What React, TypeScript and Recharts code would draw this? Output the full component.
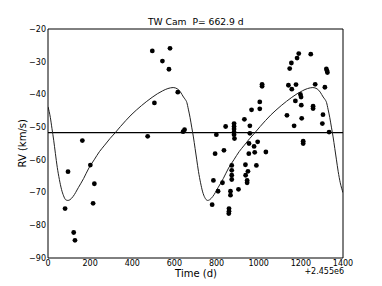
import React from 'react';
import { ComposedChart, XAxis, YAxis, Line, Scatter, ReferenceLine } from 'recharts';

// Observed radial velocities: time (d, offset by 2.455e6) and RV (km/s)
const obsTime = [
  81, 95, 122, 128, 163, 201, 214, 220,
  473, 495, 505, 543, 574, 579, 616, 641, 648,
  779, 785, 793, 799, 807, 828, 835, 843,
  859, 859, 858, 866, 866, 872, 872, 872, 872,
  883, 883, 883, 883, 883, 885, 904,
  932, 937, 938, 945, 945, 949, 953, 954, 958, 958, 966,
  978, 981, 989, 995, 1005, 1005, 1016, 1016, 1034,
  1134, 1141, 1147, 1155, 1157, 1168, 1174, 1177, 1182, 1190,
  1198, 1201, 1202, 1204, 1211, 1211, 1247, 1258, 1258, 1268,
  1302, 1305, 1314, 1321, 1324, 1326, 1334,
];
const obsRV = [
  -74.9, -63.6, -82.2, -84.6, -54.1, -61.6, -73.3, -67.3,
  -52.8, -26.7, -42.6, -29.8, -32.3, -25.9, -39.3, -51.4, -50.8,
  -73.7, -66.3, -58.1, -52.3, -69.6, -67.0, -57.1, -49.8,
  -74.9, -75.7, -76.4, -69.6, -70.8, -61.7, -63.2, -64.7, -66.0,
  -48.9, -49.8, -50.6, -51.5, -52.3, -53.5, -69.0,
  -47.6, -61.5, -64.7, -66.3, -67.0, -63.5, -58.1, -55.0, -49.6, -51.9, -44.7,
  -55.9, -57.7, -61.7, -54.5, -42.3, -44.4, -36.9, -37.5, -57.6,
  -46.4, -37.2, -32.1, -30.4, -38.4, -49.6, -42.0, -37.0, -28.9, -27.5,
  -40.0, -40.8, -43.3, -47.3, -54.3, -55.0, -27.7, -43.6, -44.3, -36.9,
  -48.9, -46.2, -37.8, -32.2, -32.8, -33.3, -51.5,
];

// Orbit model curve
const fitTime = [
  0, 11, 19, 27, 35, 44, 54, 64, 74, 84, 94, 104, 119, 144, 169, 194, 219, 244, 269, 294,
  319, 344, 369, 394, 419, 444, 469, 494, 519, 544, 569, 594, 614, 629, 643, 651, 659, 666,
  674, 682, 690, 698, 706, 714, 724, 734, 744, 757, 767, 782, 807, 832, 857, 882, 907, 932,
  957, 982, 1007, 1032, 1057, 1082, 1107, 1132, 1157, 1182, 1207, 1232, 1257, 1277, 1292,
  1306, 1314, 1322, 1329, 1337, 1345, 1353, 1361, 1369, 1377, 1387, 1400,
];
const fitRV = [
  -43.8, -47.0, -50.5, -54.0, -58.0, -62.3, -66.0, -69.0, -71.0, -72.2, -72.4, -72.2, -71.2,
  -68.5, -65.7, -62.5, -60.0, -57.5, -55.5, -53.5, -51.7, -49.8, -48.0, -46.3, -44.8, -43.4,
  -42.1, -40.9, -39.8, -38.9, -38.2, -37.9, -38.3, -39.3, -40.8, -41.5, -42.5, -44.5, -47.0,
  -50.0, -53.0, -56.5, -60.0, -63.5, -67.0, -69.8, -71.5, -72.4, -72.2, -71.2, -68.5, -65.7,
  -62.5, -60.0, -57.5, -55.5, -53.5, -51.7, -49.8, -48.0, -46.3, -44.8, -43.4, -42.1, -40.9,
  -39.8, -38.9, -38.2, -37.9, -38.3, -39.3, -40.8, -41.5, -42.5, -44.5, -47.0, -50.0, -53.0,
  -56.5, -60.0, -63.5, -67.0, -70.0,
];

const meanRV = -51.7;
const xTicks = [0, 200, 400, 600, 800, 1000, 1200, 1400];
const yTicks = [-90, -80, -70, -60, -50, -40, -30, -20];
const titleText = 'TW Cam  P= 662.9 d';
const xLabel = 'Time (d)';
const yLabel = 'RV (km/s)';
const offsetText = '+2.455e6';

const obsData = obsTime.map((t, i) => ({ x: t, y: obsRV[i] }));
const fitData = fitTime.map((t, i) => ({ x: t, y: fitRV[i] }));

const FONT = '"DejaVu Sans", sans-serif';
const fmt = (v: number) => (v < 0 ? '\u2212' + Math.abs(v) : String(v));
const tickStyle = { fontFamily: FONT, fontSize: 8, fill: '#000' };
const X_DOMAIN: [number, number] = [0, 1400];
const Y_DOMAIN: [number, number] = [-90, -20];

const Dot = (props: any) => <circle cx={props.cx} cy={props.cy} r={2.4} fill="#000" />;

export default function App() {
  return (
    <div style={{ position: 'absolute', left: 0, top: 0, width: 382, height: 286, background: '#fff' }}>
      <ComposedChart width={382} height={286} margin={{ top: 29, right: 39, bottom: 0, left: 0 }}>
        {/* inward tick marks + frame (mirrored, no space taken) */}
        <XAxis xAxisId="bm" orientation="bottom" mirror type="number" dataKey="x" domain={X_DOMAIN}
          ticks={xTicks} allowDataOverflow height={1} tickSize={4} tick={false}
          axisLine={{ stroke: '#000' }} tickLine={{ stroke: '#000' }} />
        <XAxis xAxisId="tm" orientation="top" mirror type="number" dataKey="x" domain={X_DOMAIN}
          ticks={xTicks} allowDataOverflow height={1} tickSize={4} tick={false}
          axisLine={{ stroke: '#000' }} tickLine={{ stroke: '#000' }} />
        <YAxis yAxisId="lm" orientation="left" mirror type="number" dataKey="y" domain={Y_DOMAIN}
          ticks={yTicks} allowDataOverflow width={1} tickSize={4} tick={false}
          axisLine={{ stroke: '#000' }} tickLine={{ stroke: '#000' }} />
        <YAxis yAxisId="rm" orientation="right" mirror type="number" dataKey="y" domain={Y_DOMAIN}
          ticks={yTicks} allowDataOverflow width={1} tickSize={4} tick={false}
          axisLine={{ stroke: '#000' }} tickLine={{ stroke: '#000' }} />
        {/* labelled axes */}
        <XAxis xAxisId="b" type="number" dataKey="x" domain={X_DOMAIN} ticks={xTicks}
          tickFormatter={fmt} allowDataOverflow height={28} tickSize={0} tickMargin={2}
          tick={tickStyle} axisLine={false} tickLine={false} />
        <YAxis yAxisId="l" type="number" dataKey="y" domain={Y_DOMAIN} ticks={yTicks}
          tickFormatter={fmt} allowDataOverflow width={48} tickSize={0} tickMargin={2}
          tick={tickStyle} axisLine={false} tickLine={false} />
        <ReferenceLine xAxisId="b" yAxisId="l" y={meanRV} stroke="#000" strokeWidth={1.2} />
        <Line xAxisId="b" yAxisId="l" data={fitData} dataKey="y" type="monotone" stroke="#222"
          strokeWidth={1} dot={false} activeDot={false} isAnimationActive={false} />
        <Scatter xAxisId="b" yAxisId="l" data={obsData} dataKey="y" shape={Dot}
          isAnimationActive={false} />
      </ComposedChart>
      <svg width={382} height={286}
        style={{ position: 'absolute', left: 0, top: 0, pointerEvents: 'none' }}>
        <text x={195.8} y={25.3} textAnchor="middle" fontFamily={FONT} fontSize={9.2} fill="#000"
          style={{ whiteSpace: 'pre' }}>
          {titleText}
        </text>
        <text x={196} y={277} textAnchor="middle" fontFamily={FONT} fontSize={10} fill="#000">
          {xLabel}
        </text>
        <text x={344} y={273.5} textAnchor="end" fontFamily={FONT} fontSize={8} fill="#000">
          {offsetText}
        </text>
        <text x={0} y={0} transform="translate(25.5,143.3) rotate(-90)" textAnchor="middle"
          fontFamily={FONT} fontSize={10} fill="#000">
          {yLabel}
        </text>
      </svg>
    </div>
  );
}
